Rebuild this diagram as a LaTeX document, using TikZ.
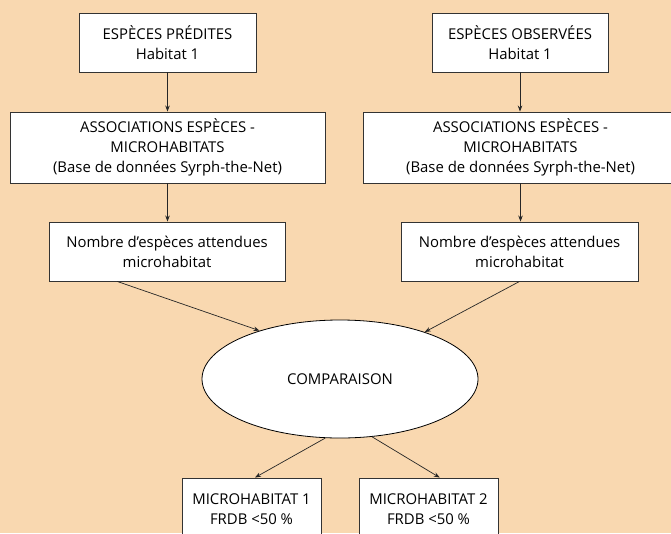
\documentclass[tikz,border=0pt]{standalone}
\usepackage{fontspec}
\setmainfont{Open Sans}
\usetikzlibrary{shapes.geometric,arrows.meta,calc}
\definecolor{bgpeach}{HTML}{F9D8B0}
\definecolor{edgegray}{HTML}{333333}
\tikzset{
  box/.style={draw=edgegray,line width=0.9pt,fill=white,align=center,inner sep=0pt,
    font=\fontsize{14.9}{20}\selectfont},
  arr/.style={draw=black!85,line width=0.7pt,-{Stealth[length=6pt,width=4.5pt]}},
}
\begin{document}
\begin{tikzpicture}[x=1pt,y=-1pt]
\fill[bgpeach] (0,0) rectangle (671,533);
\useasboundingbox (0,0) rectangle (671,533);
\clip (0,0) rectangle (671,533);
% top boxes
\node[box,minimum width=177pt,minimum height=59pt] (p1) at (167.5,42.5) {ESPÈCES PRÉDITES\\Habitat 1};
\node[box,minimum width=176pt,minimum height=59pt] (o1) at (520,42.5) {ESPÈCES OBSERVÉES\\Habitat 1};
% associations
\node[box,minimum width=315pt,minimum height=71pt] (a1) at (167.5,147.5) {ASSOCIATIONS ESPÈCES -\\MICROHABITATS\\(Base de données Syrph-the-Net)};
\node[box,minimum width=315pt,minimum height=71pt] (a2) at (520.5,147.5) {ASSOCIATIONS ESPÈCES -\\MICROHABITATS\\(Base de données Syrph-the-Net)};
% nombre
\node[box,minimum width=236pt,minimum height=59pt] (n1) at (167,251.5) {Nombre d’espèces attendues\\microhabitat};
\node[box,minimum width=237pt,minimum height=59pt] (n2) at (519.5,251.5) {Nombre d’espèces attendues\\microhabitat};
% comparaison
\node[draw=black,line width=0.8pt,fill=white,ellipse,minimum width=276pt,minimum height=118pt,inner sep=0pt,
  font=\fontsize{14.9}{20}\selectfont] (cmp) at (340,379) {COMPARAISON};
% microhabitats
\node[box,minimum width=139pt,minimum height=62pt] (m1) at (251.5,509) {MICROHABITAT 1\\FRDB <50 \%};
\node[box,minimum width=139pt,minimum height=62pt] (m2) at (428.5,509) {MICROHABITAT 2\\FRDB <50 \%};
% arrows
\draw[arr] (p1.south) -- (a1.north);
\draw[arr] (o1.south) -- (a2.north -| o1.south);
\draw[arr] (a1.south) -- (n1.north -| a1.south);
\draw[arr] (a2.south) -- (n2.north -| a2.south);
\draw[arr] ($(n1.south west)!0.29!(n1.south east)$) -- (cmp.149);
\draw[arr] (n2.south) -- (cmp.29.5);
\draw[arr] (cmp.256) -- ($(m1.north west)!0.525!(m1.north east)$);
\draw[arr] (cmp.299.5) -- ($(m2.north west)!0.58!(m2.north east)$);
\end{tikzpicture}
\end{document}
